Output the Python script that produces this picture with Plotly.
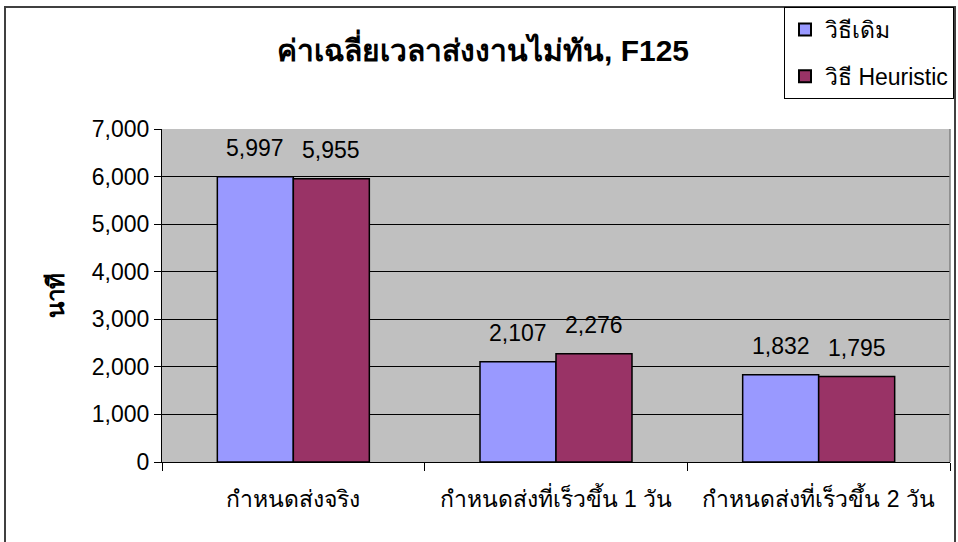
import plotly.graph_objects as go

categories = ["กำหนดส่งจริง", "กำหนดส่งที่เร็วขึ้น 1 วัน", "กำหนดส่งที่เร็วขึ้น 2 วัน"]
series_names = ["วิธีเดิม", "วิธี Heuristic"]
old_values = [5997, 2107, 1832]
heuristic_values = [5955, 2276, 1795]
y_ticks = [0, 1000, 2000, 3000, 4000, 5000, 6000, 7000]
y_tick_labels = ["0", "1,000", "2,000", "3,000", "4,000", "5,000", "6,000", "7,000"]
title_text = "ค่าเฉลี่ยเวลาส่งงานไม่ทัน, F125"
y_title = "นาที"

colors = ["#9999FF", "#993366"]
FONT = "Liberation Sans, Arial, sans-serif"

W, H = 958, 542
L, R, T, B = 162, 950, 129, 462  # plot area pixel box
pw, ph = R - L, B - T

fig = go.Figure()
for name, vals, col in zip(series_names, [old_values, heuristic_values], colors):
    fig.add_trace(go.Bar(
        x=categories, y=vals, name=name, legendgroup=name,
        marker=dict(color=col, line=dict(color="black", width=1.5)),
    ))

bargap = 1 - 152 / (pw / 3)
bar_px = (pw / 3) * (1 - bargap) / 2

for vals, sign in [(old_values, -1), (heuristic_values, 1)]:
    for c, v in zip(categories, vals):
        fig.add_annotation(
            x=c, y=v, xref="x", yref="y", text=f"{v:,}", showarrow=False,
            xshift=sign * bar_px / 2, yshift=29, yanchor="middle",
            font=dict(family=FONT, size=23, color="black"),
        )

def px_to_paper_x(px):
    return (px - L) / pw

def px_to_paper_y(py):
    return (B - py) / ph

# outer chart border
fig.add_shape(type="rect", xref="paper", yref="paper",
              x0=px_to_paper_x(5), x1=px_to_paper_x(955),
              y0=px_to_paper_y(560), y1=px_to_paper_y(7),
              line=dict(color="#404040", width=2), layer="above")
# plot area right edge
fig.add_shape(type="line", xref="paper", yref="paper", x0=1, x1=1, y0=0, y1=1,
              line=dict(color="#808080", width=1.5))

fig.update_layout(
    width=W, height=H,
    margin=dict(l=L, r=W - R, t=T, b=H - B, pad=0, autoexpand=False),
    paper_bgcolor="white", plot_bgcolor="#C0C0C0",
    barmode="group", bargap=bargap, bargroupgap=0,
    title=dict(text=f"<b>{title_text}</b>", x=483 / W, xanchor="center",
               y=1 - 50 / H, yanchor="middle", yref="container",
               font=dict(family=FONT, size=30, color="black"), automargin=False),
    legend=dict(x=px_to_paper_x(784), y=px_to_paper_y(7), xanchor="left", yanchor="top",
                bordercolor="black", borderwidth=1, bgcolor="white",
                font=dict(family=FONT, size=23, color="black"),
                tracegroupgap=14, traceorder="grouped", itemsizing="constant",
                itemwidth=30),
    font=dict(family=FONT, color="black"),
    showlegend=True,
)

fig.update_yaxes(
    range=[0, 7000], tickvals=y_ticks, ticktext=y_tick_labels,
    showgrid=True, gridcolor="black", gridwidth=1,
    showline=True, linecolor="black", linewidth=1,
    ticks="outside", ticklen=7, tickcolor="black",
    tickfont=dict(family=FONT, size=23, color="black"),
    zeroline=False, automargin=False,
    title=dict(text=f"<b>{y_title}</b>", font=dict(family=FONT, size=24, color="black"), standoff=20),
)
fig.update_xaxes(
    showline=True, linecolor="black", linewidth=1,
    ticks="outside", ticklen=8, tickcolor="black", tickson="boundaries",
    tickfont=dict(family=FONT, size=23, color="black"),
    ticklabelstandoff=16, showgrid=False, automargin=False,
)

fig.write_html("out.html")
